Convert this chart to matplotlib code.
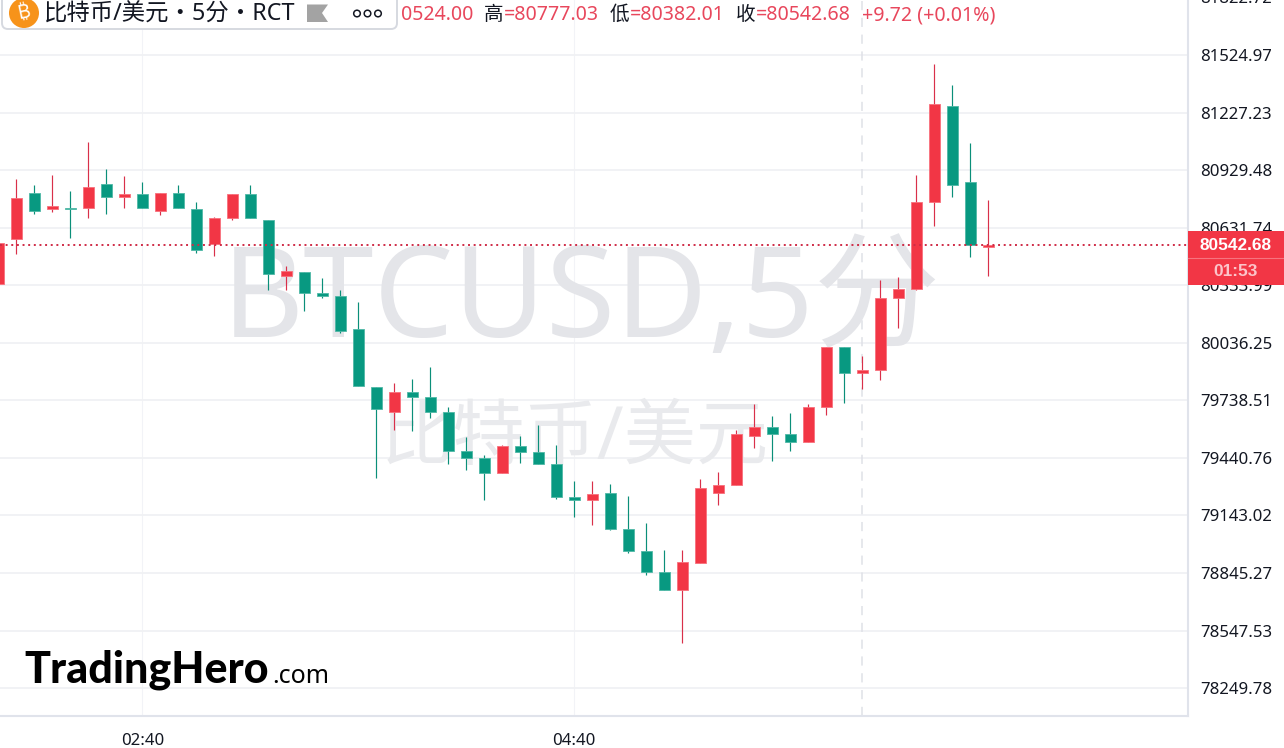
import numpy as np
import matplotlib
matplotlib.use('Agg')
import matplotlib.pyplot as plt
from matplotlib.patches import Circle, FancyBboxPatch, Polygon, Rectangle

plt.rcParams['font.family'] = ['Noto Sans', 'Noto Sans CJK SC', 'DejaVu Sans']

# Candles, 5 minutes apart, index 0 is the 02:40 bar
first_index = -8
opens = [80339, 80571, 80811, 80727, 80733, 80733, 80858, 80789, 80804, 80718, 80811, 80727, 80547, 80680,
         80804, 80671, 80383, 80401, 80292, 80277, 80106, 79809, 79678, 79780, 79756, 79678, 79476, 79438,
         79361, 79501, 79470, 79407, 79237, 79221, 79259, 79073, 78957, 78849, 78756, 78895, 79259, 79299,
         79554, 79600, 79563, 79523, 79704, 80013, 79880, 79895, 80268, 80314, 80764, 81261, 80866, 80533]
highs = [80580, 80882, 80852, 80904, 80821, 81075, 80935, 80899, 80868, 80811, 80852, 80764, 80687, 80804,
         80852, 80671, 80433, 80401, 80371, 80309, 80247, 79809, 79828, 79849, 79911, 79704, 79547, 79454,
         79507, 79554, 79611, 79507, 79321, 79321, 79305, 79243, 79104, 78964, 78964, 79331, 79368, 79585,
         79719, 79657, 79673, 79719, 80013, 80013, 79968, 80361, 80376, 80904, 81478, 81370, 81070, 80777.03]
lows = [80320, 80495, 80704, 80713, 80578, 80682, 80702, 80733, 80733, 80697, 80733, 80501, 80485, 80671,
        80680, 80309, 80309, 80201, 80269, 80087, 79811, 79338, 79585, 79581, 79649, 79409, 79378, 79223,
        79361, 79414, 79407, 79228, 79135, 79093, 79068, 78950, 78836, 78756, 78483, 78895, 79197, 79299,
        79492, 79425, 79476, 79523, 79662, 79726, 79797, 79844, 80113, 80309, 80640, 80790, 80480, 80382.01]
closes = [80554, 80787, 80718, 80742, 80727, 80842, 80789, 80804, 80733, 80811, 80733, 80516, 80680, 80804,
          80680, 80392, 80407, 80292, 80277, 80097, 79811, 79695, 79780, 79756, 79678, 79476, 79438, 79361,
          79501, 79470, 79407, 79237, 79221, 79252, 79073, 78957, 78849, 78756, 78902, 79283, 79299, 79563,
          79600, 79563, 79523, 79702, 80013, 79881, 79895, 80268, 80314, 80764, 81270, 80851, 80542, 80542.68]

price_ticks = [81524.97, 81227.23, 80929.48, 80631.74, 80333.99, 80036.25, 79738.51, 79440.76, 79143.02,
               78845.27, 78547.53, 78249.78]
time_ticks = [0, 24]
time_labels = ['02:40', '04:40']
session_break = 40
last_price = 80542.68

RED = '#f23645'
GREEN = '#089981'
GRID = '#f0f1f4'
BORDER = '#e0e3eb'
TEXT = '#131722'

fig = plt.figure(figsize=(12.84, 7.48), dpi=100, facecolor='white')
ax = fig.add_axes([0, 32 / 748, 1188 / 1284, 716 / 748])
ax.set_xlim(-7.906, 58.094)
ax.set_ylim(78105.2, 81809.5)

# grid and axes
ax.set_axisbelow(True)
ax.grid(axis='y', color=GRID, lw=1.3)
ax.grid(axis='x', color='#f2f3f7', lw=0.8)
ax.axvline(session_break, color='#dfe1e7', lw=1.1, dashes=(6, 5), zorder=0.8)
for side in ['top', 'left']:
    ax.spines[side].set_visible(False)
for side in ['right', 'bottom']:
    ax.spines[side].set_color(BORDER)
    ax.spines[side].set_linewidth(1.5)
ax.yaxis.tick_right()
ax.set_yticks(price_ticks)
ax.set_yticklabels(['%.2f' % p for p in price_ticks], fontsize=12.1, color=TEXT)
ax.set_xticks(time_ticks)
ax.set_xticklabels(time_labels, fontsize=12.1, color=TEXT)
ax.tick_params(axis='y', length=0, pad=8.5)
ax.tick_params(axis='x', length=0, pad=12)

# watermarks
ax.text(0.489, 0.575, 'BTCUSD,5分', transform=ax.transAxes, fontsize=91, color='#e4e5e9',
        ha='center', va='center', zorder=1)
ax.text(0.484, 0.386, '比特币/美元', transform=ax.transAxes, fontsize=52, color='#e9eaed',
        ha='center', va='center', zorder=1)

# candles
x = np.arange(first_index, first_index + len(opens))
o = np.array(opens)
c = np.array(closes)
colors = [RED if c[i] >= o[i] else GREEN for i in range(len(o))]
wicks = ['#d9304a' if col == RED else '#0b8f79' for col in colors]
edges = ['#f8707c' if col == RED else '#4fb8a6' for col in colors]
ax.vlines(x, lows, highs, colors=wicks, lw=0.85, zorder=2)
heights = np.maximum(np.abs(c - o), 8)
ax.bar(x, heights, bottom=np.minimum(o, c), width=0.64, color=colors, edgecolor=edges, lw=0.6, zorder=3)

# last price line
ax.axhline(last_price, color='#cf2c47', lw=1.4, dashes=(1.0, 1.9), zorder=4)

# overlay in pixels for the header, logo and price label
ov = fig.add_axes([0, 0, 1, 1], zorder=10)
ov.set_xlim(0, 1284)
ov.set_ylim(748, 0)
ov.axis('off')

ov.text(1200, -1, '81822.72', fontsize=12.1, color=TEXT, va='center')

# price label
ov.add_patch(Rectangle((1188, 231), 96, 54, color=RED, lw=0))
ov.plot([1188, 1284], [258, 258], color='#f7737f', lw=0.8)
ov.text(1236, 245, '80542.68', fontsize=12.4, color='white', weight='bold', ha='center', va='center',
        family=['Liberation Sans'])
ov.text(1236, 271.5, '01:53', fontsize=12.4, color='#fcc4c9', weight='bold', ha='center', va='center',
        family=['Liberation Sans'])

# legend box
ov.add_patch(FancyBboxPatch((2, -12), 395, 41, boxstyle='round,pad=0,rounding_size=6', facecolor='white',
                            edgecolor='#d6d9e0', lw=1.4))
ov.add_patch(Circle((24, 13), 15, color='#f7931a', lw=0))
ov.text(24, 13, '₿', fontsize=14, color='white', ha='center', va='center',
        family=['Inter', 'Roboto', 'Open Sans', 'Lato', 'Noto Sans', 'DejaVu Sans'], rotation=12)
ov.text(44, 15, '比特币/美元・5分・RCT', fontsize=16.8, color=TEXT, va='center')
ov.add_patch(Polygon([(307, 4.5), (328, 4.5), (322, 13), (328, 22), (307, 22)], color='#a3a3a3', lw=0))
for cx in [357, 367.5, 378]:
    ov.add_patch(Circle((cx, 13.5), 3.3, facecolor='white', edgecolor=TEXT, lw=1.1))

# OHLC read-out
HEAD_RED = '#e8475c'
OHLC_Y = 15
ov.text(401, OHLC_Y, '0524.00', fontsize=14.1, color=HEAD_RED, va='center')
ov.text(484, OHLC_Y, '高', fontsize=14.1, color=TEXT, va='center')
ov.text(504, OHLC_Y, '=80777.03', fontsize=14.1, color=HEAD_RED, va='center')
ov.text(610, OHLC_Y, '低', fontsize=14.1, color=TEXT, va='center')
ov.text(630, OHLC_Y, '=80382.01', fontsize=14.1, color=HEAD_RED, va='center')
ov.text(736, OHLC_Y, '收', fontsize=14.1, color=TEXT, va='center')
ov.text(756, OHLC_Y, '=80542.68', fontsize=14.1, color=HEAD_RED, va='center')
ov.text(862, OHLC_Y, '+9.72 (+0.01%)', fontsize=14.1, color=HEAD_RED, va='center')

# logo
ov.text(24, 683, 'TradingHero', fontsize=31, color='black', family=['Lato'], weight='black', va='baseline')
ov.text(272, 683, '.com', fontsize=18, color='black', va='baseline')

fig.savefig('out.png', dpi=100)
